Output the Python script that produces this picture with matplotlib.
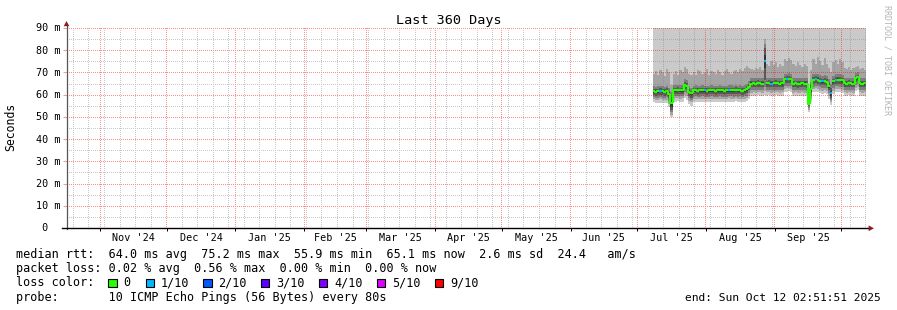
import numpy as np
import pandas as pd
import matplotlib
matplotlib.use("Agg")
import matplotlib.pyplot as plt
import matplotlib.dates as mdates
import matplotlib.transforms as mtransforms
from matplotlib.patches import Rectangle, Polygon
from matplotlib.lines import Line2D
from matplotlib.collections import LineCollection

# ---------------- data ----------------
title = "Last 360 Days"
y_label = "Seconds"
watermark = "RRDTOOL / TOBI OETIKER"
start_time = "2024-10-17 02:51:51"
end_time = "2025-10-12 02:51:51"
data_first_day = "2025-07-08"

month_labels = ["Nov '24", "Dec '24", "Jan '25", "Feb '25", "Mar '25", "Apr '25",
                "May '25", "Jun '25", "Jul '25", "Aug '25", "Sep '25"]
y_ticks = [0, 10, 20, 30, 40, 50, 60, 70, 80, 90]
y_tick_labels = [" 0", "10 m", "20 m", "30 m", "40 m", "50 m", "60 m", "70 m", "80 m", "90 m"]

median = [61.6, 61.4, 61.5, 61.7, 61.5, 61.4, 61.6, 60.5, 56.2, 62.0, 62.1, 62.2,
          62.0, 62.1, 64.4, 63.8, 61.4, 60.6, 61.9, 62.0, 61.8, 61.9, 62.0, 61.9,
          61.8, 61.9, 62.0, 61.9, 61.8, 61.9, 62.0, 61.9, 61.8, 61.9, 62.1, 62.0,
          61.9, 62.2, 61.9, 62.0, 61.8, 62.0, 62.4, 63.6, 65.0, 65.1, 65.0, 65.2,
          65.1, 65.0, 75.2, 65.1, 65.2, 65.0, 65.1, 65.2, 65.1, 65.0, 65.1, 66.9,
          67.0, 67.1, 66.9, 65.0, 65.1, 64.9, 65.0, 65.1, 65.0, 64.8, 55.9, 62.5,
          66.6, 67.0, 66.8, 66.3, 66.0, 66.2, 65.8, 64.0, 60.6, 66.0, 66.7, 66.8,
          66.6, 66.5, 65.1, 65.0, 65.2, 65.1, 65.0, 67.4, 67.8, 65.1, 65.0, 65.1]

loss = [0, 0, 0, 1, 0, 0, 0, 0, 0, 0, 0, 0,
        0, 0, 0, 0, 0, 0, 0, 0, 0, 0, 0, 1,
        0, 0, 0, 0, 0, 0, 0, 0, 0, 0, 1, 0,
        0, 0, 0, 0, 0, 0, 0, 0, 0, 0, 0, 0,
        0, 0, 1, 0, 0, 1, 0, 0, 0, 0, 0, 0,
        1, 0, 0, 0, 0, 0, 0, 0, 0, 0, 0, 0,
        0, 1, 0, 0, 1, 0, 0, 0, 1, 0, 1, 0,
        0, 0, 0, 0, 0, 0, 0, 0, 0, 0, 0, 0]

ping1 = [56.5, 56.2, 56.4, 56.4, 56.3, 56.2, 56.3, 54.5, 50.0, 56.8, 56.9, 57.0,
         56.8, 56.9, 58.5, 57.8, 55.8, 55.0, 56.7, 56.8, 56.6, 56.7, 56.8, 56.7,
         56.6, 56.7, 56.8, 56.7, 56.6, 56.7, 56.8, 56.7, 56.6, 56.7, 56.9, 56.8,
         56.7, 57.0, 56.7, 56.8, 56.6, 56.8, 57.0, 58.0, 59.4, 59.6, 59.5, 59.7,
         59.6, 59.5, 60.0, 59.6, 59.7, 59.5, 59.6, 59.7, 59.6, 59.5, 59.6, 61.3,
         61.4, 61.5, 61.3, 59.5, 59.6, 59.4, 59.5, 59.6, 59.5, 59.2, 52.0, 56.5,
         61.0, 61.4, 61.2, 60.7, 60.4, 60.6, 60.2, 58.0, 55.5, 60.4, 61.1, 61.2,
         61.0, 60.9, 59.6, 59.5, 59.7, 59.6, 59.5, 61.8, 62.2, 59.6, 59.5, 59.6]
ping2 = [57.9, 57.6, 57.8, 57.9, 57.7, 57.6, 57.8, 56.0, 51.0, 58.2, 58.3, 58.4,
         58.2, 58.3, 60.0, 59.4, 57.3, 56.5, 58.1, 58.2, 58.0, 58.1, 58.2, 58.1,
         58.0, 58.1, 58.2, 58.1, 58.0, 58.1, 58.2, 58.1, 58.0, 58.1, 58.3, 58.2,
         58.1, 58.4, 58.1, 58.2, 58.0, 58.2, 58.5, 59.5, 60.9, 61.0, 60.9, 61.1,
         61.0, 60.9, 61.5, 61.0, 61.1, 60.9, 61.0, 61.1, 61.0, 60.9, 61.0, 62.7,
         62.8, 62.9, 62.7, 60.9, 61.0, 60.8, 60.9, 61.0, 60.9, 60.6, 53.0, 58.0,
         62.4, 62.8, 62.6, 62.1, 61.8, 62.0, 61.6, 59.5, 56.5, 61.8, 62.5, 62.6,
         62.4, 62.3, 61.0, 60.9, 61.1, 61.0, 60.9, 63.2, 63.6, 61.0, 60.9, 61.0]
ping3 = [58.8, 58.6, 58.7, 58.9, 58.7, 58.6, 58.8, 57.2, 52.0, 59.2, 59.3, 59.4,
         59.2, 59.3, 61.2, 60.6, 58.4, 57.6, 59.1, 59.2, 59.0, 59.1, 59.2, 59.1,
         59.0, 59.1, 59.2, 59.1, 59.0, 59.1, 59.2, 59.1, 59.0, 59.1, 59.3, 59.2,
         59.1, 59.4, 59.1, 59.2, 59.0, 59.2, 59.6, 60.7, 62.1, 62.2, 62.1, 62.3,
         62.2, 62.1, 63.5, 62.2, 62.3, 62.1, 62.2, 62.3, 62.2, 62.1, 62.2, 63.9,
         64.0, 64.1, 63.9, 62.1, 62.2, 62.0, 62.1, 62.2, 62.1, 61.8, 54.0, 59.3,
         63.6, 64.0, 63.8, 63.3, 63.0, 63.2, 62.8, 60.8, 57.5, 63.0, 63.7, 63.8,
         63.6, 63.5, 62.2, 62.1, 62.3, 62.2, 62.1, 64.4, 64.8, 62.2, 62.1, 62.2]
ping4 = [59.8, 59.6, 59.7, 59.9, 59.7, 59.6, 59.8, 58.4, 53.0, 60.2, 60.3, 60.4,
         60.2, 60.3, 62.5, 61.9, 59.5, 58.7, 60.1, 60.2, 60.0, 60.1, 60.2, 60.1,
         60.0, 60.1, 60.2, 60.1, 60.0, 60.1, 60.2, 60.1, 60.0, 60.1, 60.3, 60.2,
         60.1, 60.4, 60.1, 60.2, 60.0, 60.2, 60.7, 61.9, 63.3, 63.4, 63.3, 63.5,
         63.4, 63.3, 66.5, 63.4, 63.5, 63.3, 63.4, 63.5, 63.4, 63.3, 63.4, 65.1,
         65.2, 65.3, 65.1, 63.3, 63.4, 63.2, 63.3, 63.4, 63.3, 63.0, 54.8, 60.6,
         64.8, 65.2, 65.0, 64.5, 64.2, 64.4, 64.0, 62.0, 58.5, 64.2, 64.9, 65.0,
         64.8, 64.7, 63.4, 63.3, 63.5, 63.4, 63.3, 65.6, 66.0, 63.4, 63.3, 63.4]
ping5 = [60.9, 60.7, 60.8, 61.0, 60.8, 60.7, 60.9, 59.6, 54.5, 61.3, 61.4, 61.5,
         61.3, 61.4, 63.6, 63.0, 60.6, 59.8, 61.2, 61.3, 61.1, 61.2, 61.3, 61.2,
         61.1, 61.2, 61.3, 61.2, 61.1, 61.2, 61.3, 61.2, 61.1, 61.2, 61.4, 61.3,
         61.2, 61.5, 61.2, 61.3, 61.1, 61.3, 61.8, 63.0, 64.4, 64.5, 64.4, 64.6,
         64.5, 64.4, 72.0, 64.5, 64.6, 64.4, 64.5, 64.6, 64.5, 64.4, 64.5, 66.3,
         66.4, 66.5, 66.3, 64.4, 64.5, 64.3, 64.4, 64.5, 64.4, 64.2, 55.5, 61.8,
         66.0, 66.4, 66.2, 65.7, 65.4, 65.6, 65.2, 63.2, 59.6, 65.4, 66.1, 66.2,
         66.0, 65.9, 64.5, 64.4, 64.6, 64.5, 64.4, 66.8, 67.2, 64.5, 64.4, 64.5]
ping6 = [62.1, 61.9, 62.0, 62.2, 62.0, 61.9, 62.1, 61.0, 57.5, 62.5, 62.6, 62.7,
         62.5, 62.6, 65.0, 64.4, 61.9, 61.1, 62.4, 62.5, 62.3, 62.4, 62.5, 62.4,
         62.3, 62.4, 62.5, 62.4, 62.3, 62.4, 62.5, 62.4, 62.3, 62.4, 62.6, 62.5,
         62.4, 62.7, 62.4, 62.5, 62.3, 62.5, 63.0, 64.2, 65.6, 65.6, 65.5, 65.7,
         65.6, 65.5, 78.0, 65.6, 65.7, 65.5, 65.6, 65.7, 65.6, 65.5, 65.6, 67.4,
         67.5, 67.6, 67.4, 65.5, 65.6, 65.4, 65.5, 65.6, 65.5, 65.3, 56.5, 63.2,
         67.1, 67.5, 67.3, 66.8, 66.5, 66.7, 66.3, 64.6, 61.6, 66.5, 67.2, 67.3,
         67.1, 67.0, 65.6, 65.5, 65.7, 65.6, 65.5, 67.9, 68.3, 65.6, 65.5, 65.6]
ping7 = [62.7, 62.5, 62.6, 62.9, 62.6, 62.5, 62.8, 61.8, 59.0, 63.1, 63.2, 63.3,
         63.1, 63.2, 65.8, 65.2, 62.6, 61.8, 63.0, 63.1, 62.9, 63.0, 63.1, 63.0,
         62.9, 63.0, 63.1, 63.0, 62.9, 63.0, 63.1, 63.0, 62.9, 63.0, 63.2, 63.1,
         63.0, 63.3, 63.0, 63.1, 62.9, 63.1, 63.7, 64.9, 66.3, 66.3, 66.2, 66.4,
         66.3, 66.2, 81.0, 66.3, 66.4, 66.2, 66.3, 66.4, 66.3, 66.2, 66.3, 68.1,
         68.2, 68.3, 68.1, 66.2, 66.3, 66.1, 66.2, 66.3, 66.2, 66.0, 58.0, 64.2,
         67.8, 68.2, 68.0, 67.5, 67.2, 67.4, 67.0, 65.5, 63.0, 67.2, 67.9, 68.0,
         67.8, 67.7, 66.3, 66.2, 66.4, 66.3, 66.2, 68.6, 69.0, 66.3, 66.2, 66.3]
ping8 = [63.8, 63.6, 63.7, 64.1, 63.7, 63.6, 63.9, 63.0, 61.0, 64.2, 64.3, 64.4,
         64.2, 64.3, 67.0, 66.4, 63.8, 63.0, 64.1, 64.2, 64.0, 64.1, 64.2, 64.1,
         64.0, 64.1, 64.2, 64.1, 64.0, 64.1, 64.2, 64.1, 64.0, 64.1, 64.3, 64.2,
         64.1, 64.4, 64.1, 64.2, 64.0, 64.2, 64.9, 66.1, 67.5, 67.6, 67.5, 67.7,
         67.6, 67.5, 83.0, 67.6, 67.7, 67.5, 67.6, 67.7, 67.6, 67.5, 67.6, 69.4,
         69.5, 69.6, 69.4, 67.5, 67.6, 67.4, 67.5, 67.6, 67.5, 67.3, 60.0, 65.8,
         69.1, 69.5, 69.3, 68.8, 68.5, 68.7, 68.3, 67.0, 65.0, 68.5, 69.2, 69.3,
         69.1, 69.0, 67.6, 67.5, 67.7, 67.6, 67.5, 69.9, 70.3, 67.6, 67.5, 67.6]
ping9 = [69.5, 70.5, 69.0, 71.0, 70.0, 68.5, 71.5, 70.0, 64.5, 69.5, 70.5, 69.0,
         71.0, 70.0, 72.5, 71.5, 69.5, 69.0, 70.0, 69.0, 71.0, 70.5, 69.5, 70.0,
         71.5, 69.0, 70.5, 70.0, 69.5, 71.0, 70.0, 69.0, 70.5, 71.5, 70.0, 69.5,
         70.5, 71.0, 70.0, 71.5, 70.5, 72.0, 73.0, 72.0, 71.5, 71.0, 72.0, 71.5,
         72.5, 71.0, 85.0, 74.0, 73.0, 75.0, 73.5, 74.5, 72.5, 74.0, 73.0, 76.0,
         75.0, 76.5, 75.5, 74.0, 73.0, 74.5, 73.5, 72.5, 74.0, 73.0, 63.0, 71.0,
         76.0, 74.0, 77.0, 75.0, 73.5, 76.5, 74.0, 72.0, 70.0, 74.5, 75.5, 74.0,
         76.0, 74.5, 72.0, 71.5, 72.5, 71.0, 72.0, 72.5, 73.0, 71.5, 72.0, 71.0]
ping10 = [93, 94, 92, 95, 93, 92, 94, 93, 91, 93, 94, 92,
          95, 93, 95, 94, 92, 93, 93, 94, 92, 93, 95, 94,
          93, 92, 94, 93, 95, 93, 92, 94, 93, 95, 94, 93,
          92, 94, 93, 95, 93, 94, 95, 94, 93, 94, 95, 93,
          94, 95, 96, 95, 94, 96, 95, 94, 93, 95, 96, 95,
          94, 96, 95, 94, 93, 95, 94, 96, 95, 94, 92, 94,
          96, 95, 94, 95, 93, 96, 95, 94, 93, 95, 96, 94,
          95, 93, 95, 94, 96, 95, 93, 94, 95, 96, 94, 95]

loss_colors = {0: "#26ff00", 1: "#00b8ff", 2: "#0059ff", 3: "#5e00ff",
               4: "#7e00ff", 5: "#dd00ff", 9: "#ff0000"}
legend_loss_labels = ["0", "1/10", "2/10", "3/10", "4/10", "5/10", "9/10"]
legend_loss_keys = [0, 1, 2, 3, 4, 5, 9]

line_rtt = "median rtt:  64.0 ms avg  75.2 ms max  55.9 ms min  65.1 ms now  2.6 ms sd  24.4   am/s"
line_loss = "packet loss: 0.02 % avg  0.56 % max  0.00 % min  0.00 % now"
line_color = "loss color:"
line_probe = "probe:       10 ICMP Echo Pings (56 Bytes) every 80s"
line_end = "end: Sun Oct 12 02:51:51 2025"

# ---------------- figure ----------------
W, H = 897, 310
plt.rcParams['font.family'] = ['DejaVu Sans Mono', 'DejaVu Sans']

def fx(x):
    return x / W

def fy(y):
    return 1 - y / H

AX_L, AX_R, AX_T, AX_B = 67, 866, 28, 228     # integer pixel box of the plot area
NPX_X, NPX_Y = AX_R - AX_L, AX_B - AX_T
rect = [fx(AX_L), fy(AX_B), NPX_X / W, NPX_Y / H]
fig = plt.figure(figsize=(W / 100, H / 100), dpi=100, facecolor='white')
ax = fig.add_axes(rect, zorder=0)
ax.set_facecolor('white')
for s in ax.spines.values():
    s.set_visible(False)

t0 = mdates.date2num(pd.Timestamp(start_time).to_pydatetime())
t1 = mdates.date2num(pd.Timestamp(end_time).to_pydatetime())
Y0, Y1 = 0, 90
ax.set_xlim(t0, t1)
ax.set_ylim(Y0, Y1)

days = pd.date_range(data_first_day, periods=len(median), freq="D")
xd = mdates.date2num(days.to_pydatetime())
xe = np.append(xd, t1)

def ext(a):
    a = np.asarray(a, dtype=float)
    return np.append(a, a[-1])

pings = [ping1, ping2, ping3, ping4, ping5, ping6, ping7, ping8, ping9, ping10]
smoke_cols = ["#cacaca", "#a4a4a4", "#7e7e7e", "#585858", "#323232"]
for i in range(5):
    lo = ext(pings[i])
    hi = ext(pings[9 - i])
    ax.fill_between(xe, lo, hi, step='post', color=smoke_cols[i], linewidth=0,
                    zorder=1, antialiased=False)

# dotted grid (1 px on / 1 px off) as a pixel-exact figure image over the smoke
weeks = pd.date_range("2024-10-20", end_time, freq="7D")
months = pd.date_range("2024-11-01", end_time, freq="MS")
grid_img = np.zeros((NPX_Y, NPX_X, 4))
g_rgba = (0.5, 0.5, 0.5, 0.42)
r_rgba = (1.0, 0.0, 0.0, 0.45)

def col_of(d):
    return int((mdates.date2num(d.to_pydatetime()) - t0) / (t1 - t0) * NPX_X)

def row_of(v):
    return int(round((Y1 - v) / (Y1 - Y0) * NPX_Y))

for d in weeks:
    c = col_of(d)
    if 0 <= c < NPX_X:
        grid_img[0::2, c] = g_rgba
for v in np.arange(5, 90, 10):
    grid_img[row_of(v), 0::2] = g_rgba
for d in months:
    c = col_of(d)
    if 0 <= c < NPX_X:
        grid_img[0::2, c] = r_rgba
for v in y_ticks[1:]:
    grid_img[min(row_of(v), NPX_Y - 1), 0::2] = r_rgba
fig.figimage(grid_img, xo=AX_L, yo=H - AX_B, origin='upper', zorder=0.5)

# median line coloured by loss, on a transparent overlay axes above the grid
ax2 = fig.add_axes(rect, zorder=1)
ax2.set_xlim(t0, t1)
ax2.set_ylim(Y0, Y1)
ax2.axis('off')
ax2.patch.set_alpha(0)
segs, cols = [], []
med = np.asarray(median, dtype=float)
for i in range(len(med)):
    pts = []
    if i > 0 and loss[i - 1] == loss[i]:
        pts.append((xe[i], med[i - 1]))
    pts += [(xe[i], med[i]), (xe[i + 1], med[i])]
    segs.append(pts)
    cols.append(loss_colors[loss[i]])
lc = LineCollection(segs, colors=cols, linewidths=1.6, capstyle='butt')
ax2.add_collection(lc)

# ticks
ax.set_yticks(y_ticks)
ax.set_yticklabels([])
ax.tick_params(axis='y', length=3, width=0.72, color='#f29c9c', direction='out')
ax.set_xticks([mdates.date2num(d.to_pydatetime()) for d in months])
ax.set_xticklabels([])
ax.tick_params(axis='x', length=2.0, width=0.72, color='black', direction='out')

# y tick labels
ytrans = mtransforms.blended_transform_factory(fig.transFigure, ax.transData)
ytrans = mtransforms.offset_copy(ytrans, fig=fig, x=0, y=-3.4, units='dots')
for v, lab in zip(y_ticks, y_tick_labels):
    ax.text(fx(36), v, lab, transform=ytrans, ha='left', va='baseline',
            fontsize=7.3, color='black', clip_on=False)

# month labels centred in each month
xtrans = mtransforms.blended_transform_factory(ax.transData, fig.transFigure)
mstarts = pd.date_range("2024-11-01", periods=len(month_labels) + 1, freq="MS")
for k, lab in enumerate(month_labels):
    a = mdates.date2num(mstarts[k].to_pydatetime())
    b = mdates.date2num(mstarts[k + 1].to_pydatetime())
    ax.text((a + b) / 2, fy(240.7), lab, transform=xtrans, ha='center', va='baseline',
            fontsize=7.3, color='black', clip_on=False)

# axes lines and arrows
fig.add_artist(Line2D([fx(66.5), fx(66.5)], [fy(228.5), fy(25)], color='#555555', lw=0.9,
                      zorder=2))
fig.add_artist(Line2D([fx(62), fx(869)], [fy(228.3), fy(228.3)], color='black', lw=1.0,
                      zorder=2))
arrow_col = '#8b1f1f'
fig.add_artist(Polygon([(fx(66.5), fy(21.0)), (fx(63.7), fy(26.2)), (fx(69.3), fy(26.2))],
                       closed=True, transform=fig.transFigure, facecolor=arrow_col,
                       edgecolor='none', zorder=2))
fig.add_artist(Polygon([(fx(874.0), fy(228.3)), (fx(868.6), fy(225.4)), (fx(868.6), fy(231.2))],
                       closed=True, transform=fig.transFigure, facecolor=arrow_col,
                       edgecolor='none', zorder=2))

# title, axis label, watermark
fig.text(fx(448.5), fy(24), title, ha='center', va='baseline', fontsize=9.7, color='black')
fig.text(fx(11), fy(126.5), y_label, ha='center', va='center', rotation=90,
         fontsize=8.3, color='black')
fig.text(fx(886.5), fy(60), watermark, ha='center', va='center', rotation=-90,
         fontsize=6.0, color='#b4b4b4')

# legend
fs = 8.5
fig.text(fx(16), fy(258.2), line_rtt, ha='left', va='baseline', fontsize=fs)
fig.text(fx(16), fy(272.4), line_loss, ha='left', va='baseline', fontsize=fs)
fig.text(fx(16), fy(286.5), line_color, ha='left', va='baseline', fontsize=fs)
fig.text(fx(16), fy(300.8), line_probe, ha='left', va='baseline', fontsize=fs)
fig.text(fx(880.5), fy(300.8), line_end, ha='right', va='baseline', fontsize=8.1)

box_x = [108.3, 145.7, 203.3, 261.0, 319.0, 376.7, 435.0]
for bx, key, lab in zip(box_x, legend_loss_keys, legend_loss_labels):
    fig.add_artist(Rectangle((fx(bx), fy(286.8)), 8.3 / W, 8.3 / H,
                             transform=fig.transFigure, facecolor=loss_colors[key],
                             edgecolor='black', lw=0.8, zorder=2))
    fig.text(fx(bx + 15.0), fy(286.5), lab, ha='left', va='baseline', fontsize=fs)

fig.savefig("out.png", dpi=100, facecolor='white')
